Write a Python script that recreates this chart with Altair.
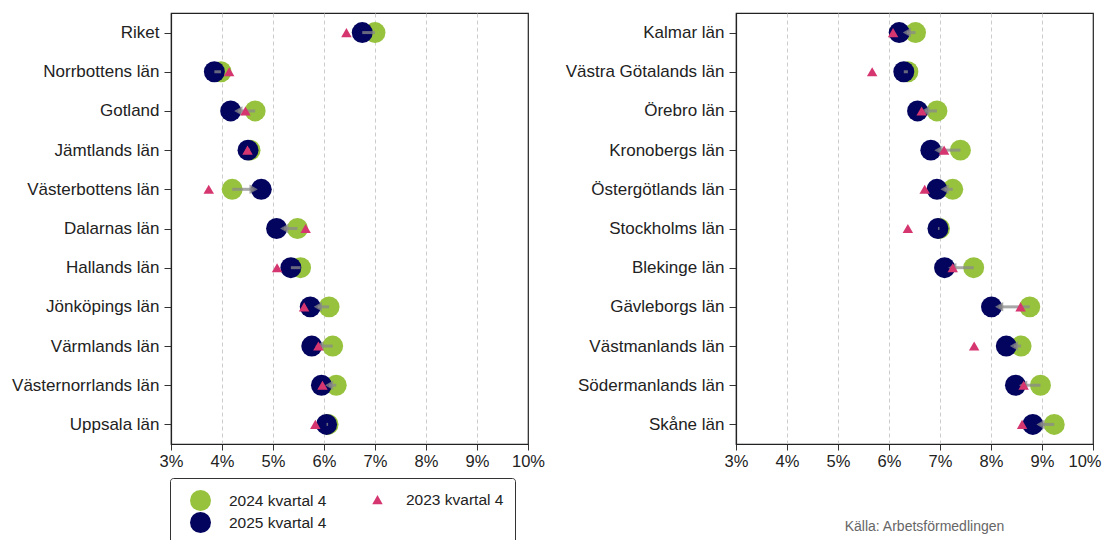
import altair as alt
import pandas as pd

# ---- data (percent) ----
left_regions = ["Riket", "Norrbottens län", "Gotland", "Jämtlands län", "Västerbottens län",
                "Dalarnas län", "Hallands län", "Jönköpings län", "Värmlands län",
                "Västernorrlands län", "Uppsala län"]
left_2024 = [7.00, 3.98, 4.65, 4.55, 4.20, 5.48, 5.54, 6.10, 6.17, 6.24, 6.08]
left_2025 = [6.75, 3.85, 4.17, 4.51, 4.77, 5.07, 5.35, 5.73, 5.76, 5.95, 6.05]
left_2023 = [6.44, 4.14, 4.46, 4.50, 3.74, 5.64, 5.08, 5.61, 5.89, 5.97, 5.83]

right_regions = ["Kalmar län", "Västra Götalands län", "Örebro län", "Kronobergs län",
                 "Östergötlands län", "Stockholms län", "Blekinge län", "Gävleborgs län",
                 "Västmanlands län", "Södermanlands län", "Skåne län"]
right_2024 = [6.52, 6.37, 6.94, 7.40, 7.25, 6.99, 7.66, 8.76, 8.59, 8.97, 9.24]
right_2025 = [6.20, 6.29, 6.56, 6.82, 6.94, 6.96, 7.09, 8.01, 8.30, 8.48, 8.82]
right_2023 = [6.08, 5.67, 6.64, 7.08, 6.70, 6.37, 7.25, 8.58, 7.67, 8.64, 8.61]

x_ticks = [3, 4, 5, 6, 7, 8, 9, 10]

series_names = ["2024 kvartal 4", "2025 kvartal 4", "2023 kvartal 4"]
series_colors = ["#97C23D", "#03045E", "#D6366F"]
series_shapes = ["circle", "circle", "triangle-up"]
series_sizes = [440, 440, 110]

source_text = "Källa: Arbetsförmedlingen"

FONT = "Liberation Sans"


def make_panel(regions, v24, v25, v23, title=None, squeeze_last=False):
    long = pd.DataFrame({
        "region": regions * 3,
        "series": ["2024 kvartal 4"] * len(regions) + ["2025 kvartal 4"] * len(regions)
                  + ["2023 kvartal 4"] * len(regions),
        "value": list(v24) + list(v25) + list(v23),
    })
    wide = pd.DataFrame({"region": regions, "v24": v24, "v25": v25})

    y = alt.Y("region:N", sort=regions, title=None,
              scale=alt.Scale(type="point", padding=0.5),
              axis=alt.Axis(labelFontSize=17, tickSize=7, labelPadding=5, grid=False))
    xs = alt.Scale(domain=[3, 10], nice=False, zero=False)
    extra = {}
    if squeeze_last:
        extra = dict(
            labelAlign=alt.condition("datum.value >= 10", alt.value("right"), alt.value("center")),
            labelOffset=alt.condition("datum.value >= 10", alt.value(8), alt.value(0)),
        )
    xaxis = alt.Axis(values=x_ticks, labelExpr="datum.value + '%'", labelFontSize=16.5,
                     tickSize=6, labelPadding=3, labelFlush=False, grid=True, gridDash=[4, 3],
                     gridColor="#cccccc", gridWidth=1,
                     gridOpacity=alt.condition("datum.value <= 3 || datum.value >= 10",
                                               alt.value(0), alt.value(1)),
                     **extra)

    color = alt.Color("series:N", title=None,
                      scale=alt.Scale(domain=series_names, range=series_colors),
                      legend=alt.Legend(orient="none", legendX=-1, legendY=465, columns=2,
                                        columnPadding=31, rowPadding=0, padding=11,
                                        labelFontSize=15.5, labelOffset=17, labelLimit=300,
                                        strokeColor="#333333", cornerRadius=3,
                                        symbolOffset=8, fillColor="white"))
    shape = alt.Shape("series:N", scale=alt.Scale(domain=series_names, range=series_shapes))
    size = alt.Size("series:N", scale=alt.Scale(type="ordinal", domain=series_names,
                                                range=series_sizes))

    base = alt.Chart(long)

    def pts(name):
        return base.transform_filter(alt.datum.series == name).mark_point(
            filled=True, opacity=1, strokeWidth=0).encode(
            x=alt.X("value:Q", scale=xs, axis=xaxis, title=None),
            y=y, color=color, shape=shape, size=size)

    green = pts("2024 kvartal 4")
    navy = pts("2025 kvartal 4")
    tri = pts("2023 kvartal 4")

    arrows = alt.Chart(wide).transform_calculate(
        hx="datum.v25 + (datum.v24 > datum.v25 ? 0.15 : -0.15)"
    ).transform_calculate(
        hx2="abs(datum.v24 - datum.v25) > 0.25 ? datum.hx : datum.v25"
    )
    line = arrows.mark_rule(color="#8a8a8a", strokeWidth=3, opacity=0.75).encode(
        x=alt.X("v24:Q", scale=xs, axis=xaxis, title=None), x2="hx2:Q", y=y)
    head = arrows.transform_filter("abs(datum.v24 - datum.v25) > 0.25").mark_point(
        filled=True, color="#8a8a8a", opacity=0.75, size=90, strokeWidth=0).encode(
        x=alt.X("hx:Q", scale=xs, axis=xaxis, title=None), y=y,
        shape=alt.condition("datum.v24 > datum.v25", alt.value("triangle-left"),
                            alt.value("triangle-right")))

    layer = alt.layer(green, navy, line, head, tri).properties(width=357, height=431)
    if title is not None:
        layer = layer.properties(title=title)
    return layer


left = make_panel(left_regions, left_2024, left_2025, left_2023)
right = make_panel(right_regions, right_2024, right_2025, right_2023,
                   title=alt.TitleParams(source_text, orient="bottom", anchor="middle",
                                         fontSize=14, fontWeight="normal", color="#666666",
                                         font=FONT, offset=50, dx=10),
                   squeeze_last=True)

chart = alt.hconcat(left, right, spacing=18).resolve_scale(
    y="independent", color="shared", shape="shared", size="shared"
).properties(
    padding={"left": 2, "top": 4, "right": 0, "bottom": 0}
).configure(font=FONT).configure_view(
    stroke="#222222", strokeWidth=1.2
).configure_axis(
    labelColor="#222222", tickColor="#333333", domainColor="#222222", domainWidth=1.2,
    labelFont=FONT
).configure_legend(labelFont=FONT, labelColor="#222222")

chart.save("out.html", embed_options={"renderer": "svg", "actions": False})
